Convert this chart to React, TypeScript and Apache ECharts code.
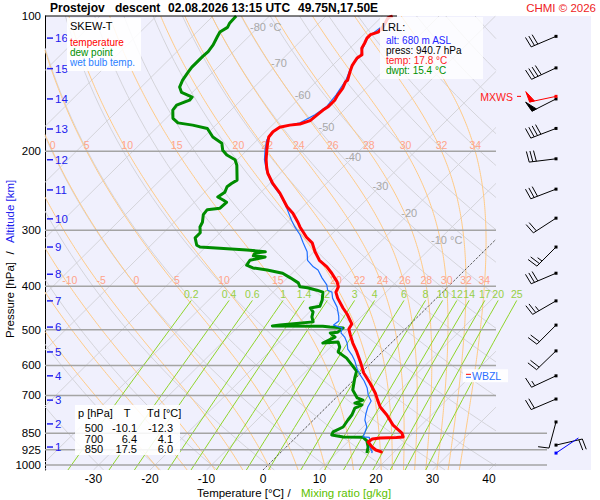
import React, { useEffect, useRef } from "react";
import * as echarts from "echarts";

// ---------------- diagram frame ----------------
const P_TOP = 100;
const P_BASE = 1026; // pressure at the lower edge of the diagram
const SKEW_K = 80.26; // skew of isotherms, degC per decade of pressure
const XMIN = -38.58;
const XMAX = 50.27;
const XCLIP = 41.24;
const MIX_TOP = 430;
const MIX_LABEL_P = 416;
// label rows of the pseudo-adiabats: [isobar the label belongs to, pressure where text sits]
const THETA_W_LABEL_ROWS = [[200, 194], [400, 387]];
const BARB_X = 0.17;

// ---------------- axes / reference lines ----------------
const PRESSURE_TICKS = [100, 200, 300, 400, 500, 600, 700, 850, 925, 1000];
const TEMPERATURE_TICKS = [-30, -20, -10, 0, 10, 20, 30, 40];
const ISOBARS = [200, 300, 400, 500, 600, 700, 850, 925, 1000];
const LONG_ISOBARS = [850, 925, 1000];
const ISOTHERMS = [-120, -110, -100, -90, -80, -70, -60, -50, -40, -30, -20, -10, 0, 10, 20, 30, 40];
const DRY_ADIABATS_C = [-40, -30, -20, -10, 0, 10, 20, 30, 40, 50, 60, 70, 80, 90, 100, 110, 120, 130, 140, 150, 160, 170, 180];
const THETA_W = [-20, -15, -10, -5, 0, 5, 10, 15, 20, 22, 24, 26, 28, 30, 32, 34];
const MIXING_RATIOS = [0.2, 0.4, 0.6, 1, 1.4, 2, 3, 4, 6, 8, 10, 12, 14, 17, 20, 25];
const ISOTHERM_LABEL_T = [-80, -70, -60, -50, -40, -30, -20, -10];
const ISOTHERM_LABEL_P = [106, 127, 150, 177, 206, 239, 275, 315];

// ---------------- sounding [pressure hPa, degC] ----------------
const TEMPERATURE = [
  [100, -58.2], [101, -58.7], [106, -57.9], [108.6, -57.9], [110, -58.8], [112, -58.8], [115, -58.3], [118, -57.9],
  [122, -56.7], [124, -57.0], [129, -56.5], [133, -55.8], [139, -54.7], [140, -54.8], [145, -54.1], [150, -53.8],
  [154, -53.4], [156, -53.4], [159, -53.4], [162, -53.7], [166, -53.9], [171, -54.1], [174, -55.3], [175, -56.9],
  [177, -58.3], [181, -58.7], [186, -58.5], [192, -57.6], [199, -56.5], [209, -54.9], [217, -53.5], [224, -52.2],
  [236, -49.5], [248, -46.5], [266, -42.8], [275, -40.6], [288, -38.1], [295, -36.9], [311, -33.9], [320, -31.9],
  [335, -29.8], [350, -27.5], [362, -25.0], [374, -23.0], [391, -20.5], [401, -19.4], [412, -18.9], [425, -17.5],
  [447, -14.8], [461, -13.0], [485, -10.4], [498, -10.0], [513, -8.7], [535, -6.8], [560, -4.5], [593, -1.8],
  [624, 0.5], [657, 3.4], [691, 6.1], [717, 7.8], [743, 9.5], [774, 12.1], [815, 15.0], [849, 18.0],
  [866, 18.9], [868, 17.8], [871, 15.0], [875, 13.8], [889, 13.6], [912, 15.2], [926, 16.4], [935, 17.7], [940.7, 17.8],
];
const DEW_POINT = [
  [100, -85.9], [103.6, -85.8], [106, -85.4], [108.6, -85.9], [111.4, -85.5], [116, -84.8], [120, -84.5], [123, -84.6],
  [127, -84.6], [130, -84.6], [133, -84.4], [139, -83.9], [144, -83.2], [148, -81.9], [151.5, -79.2], [154, -79.1],
  [158, -80.5], [162, -80.3], [169, -78.8], [173, -77.1], [175, -74.1], [178, -70.9], [186, -68.4], [192, -65.7],
  [199, -64.3], [204, -62.7], [209, -60.4], [215, -59.1], [232, -56.4], [236, -56.8], [240, -57.0], [247, -56.4],
  [253, -56.8], [257, -55.3], [260, -54.3], [268, -54.4], [270, -56.4], [277, -56.2], [288, -55.0], [295, -54.6],
  [304, -53.5], [312, -53.5], [324, -51.9], [327, -51.0], [329, -47.3], [332, -42.2], [335, -38.6], [337, -40.2],
  [342, -40.0], [344, -37.7], [350, -39.8], [359, -39.5], [364, -37.9], [368, -35.0], [374, -31.7], [383, -29.5],
  [393, -27.2], [401, -26.2], [403, -24.7], [408, -22.6], [412, -21.2], [429, -19.9], [443, -19.2], [447, -20.6],
  [456, -19.4], [468, -18.7], [480, -17.6], [488, -22.9], [490, -24.1], [491, -15.1], [493, -13.7], [495, -11.2],
  [506, -11.4], [508, -12.6], [519, -11.0], [535, -12.1], [532, -9.6], [546, -8.4], [560, -7.8], [578, -5.2],
  [599, -3.0], [618, -1.1], [640, -0.2], [681, 1.6], [709, 3.8], [717, 5.2], [728, 4.3], [735, 5.9],
  [747, 5.2], [774, 5.9], [794, 6.1], [823, 6.5], [844, 5.6], [857, 5.9], [866, 8.3], [867, 11.8],
  [884, 13.2], [912, 14.5], [935, 15.2], [940.7, 15.4],
];
const WET_BULB = [
  [100, -58.5], [106, -58.3], [111.4, -58.8], [118, -57.7], [122.7, -56.8], [129, -56.6], [139, -55.0], [145, -54.5],
  [150, -54.1], [159, -53.7], [166, -54.3], [173, -55.5], [177, -58.3], [182, -58.8], [189, -58.3], [199, -56.8],
  [209, -55.2], [220, -53.1], [236, -49.7], [250, -46.2], [264, -43.3], [285, -39.6], [295, -37.8], [307, -35.5],
  [320, -33.5], [335, -31.2], [350, -29.6], [362, -27.4], [368, -26.0], [383, -23.9], [397, -21.8], [408, -20.7],
  [412, -19.6], [425, -18.4], [445, -16.0], [466, -14.1], [478, -13.2], [488, -13.4], [495, -11.4], [508, -10.7],
  [519, -9.3], [535, -7.8], [552, -6.6], [569, -4.8], [587, -3.2], [611, -1.4], [630, 0.2], [650, 2.0],
  [674, 3.8], [698, 5.2], [720, 6.8], [743, 7.3], [770, 8.2], [794, 9.1], [823, 10.7], [849, 11.4],
  [866, 11.8], [868, 13.0], [889, 13.9], [912, 14.8], [935, 16.1], [940.7, 16.2],
];

// ---------------- altitude scale ----------------
const ALTITUDE_KM = [1, 2, 3, 4, 5, 6, 7, 8, 9, 10, 11, 12, 13, 14, 15, 16];
const ALTITUDE_P = [912, 810, 717, 633, 560, 493, 431, 376, 327, 283, 244, 209, 178.5, 153, 131, 112];

// ---------------- wind ----------------
const BARB_P = [111, 130.5, 153, 178, 208, 243, 282, 327, 374, 431, 488, 557, 633, 713, 802, 903];
const BARB_DIR = [247, 245, 243, 249, 263, 249, 237, 225, 247, 240, 225, 226, 245, 247, 195, 77];
const BARB_SPD = [30, 40, 50, 40, 30, 30, 20, 25, 30, 25, 20, 20, 15, 20, 10, 20];
const MXWS_P = 151;
const MXWS_DIR = 258;
const MXWS_SPD = 50;

// ---------------- launch / levels ----------------
const LRL_ALT = 680;
const LRL_P = 940.7;
const LRL_T = 17.8;
const LRL_TD = 15.4;
const LRL_WIND_DIR = 56;
const WBZL_P = 633;

const TABLE_P = [500, 700, 850];
const TABLE_T = [-10.1, 6.4, 17.5];
const TABLE_TD = [-12.3, 4.1, 6.0];

// ---------------- helpers ----------------
const FONT = '"Liberation Sans", Arial, Helvetica, sans-serif';
const font = (size: number, weight = "normal") => `${weight} ${size}px ${FONT}`;
const lg = (p: number) => Math.log10(p);
const skewX = (t: number, p: number) => t + SKEW_K * Math.log10(P_BASE / p);
const logSpace = (p0: number, p1: number, n: number) =>
  Array.from({ length: n + 1 }, (_, i) => p0 * Math.pow(p1 / p0, i / n));

function clipSegments(pts: number[][], lo: number, hi: number): number[][][] {
  const segs: number[][][] = [];
  let cur: number[][] = [];
  const flush = () => {
    if (cur.length > 1) segs.push(cur);
    cur = [];
  };
  for (let i = 0; i < pts.length - 1; i++) {
    const [x0, y0] = pts[i];
    const [x1, y1] = pts[i + 1];
    const dx = x1 - x0;
    let t0 = 0;
    let t1 = 1;
    if (Math.abs(dx) < 1e-12) {
      if (x0 < lo || x0 > hi) {
        flush();
        continue;
      }
    } else {
      let ta = (lo - x0) / dx;
      let tb = (hi - x0) / dx;
      if (ta > tb) {
        const s = ta;
        ta = tb;
        tb = s;
      }
      t0 = Math.max(0, ta);
      t1 = Math.min(1, tb);
      if (t0 >= t1) {
        flush();
        continue;
      }
    }
    const a = [x0 + dx * t0, y0 + (y1 - y0) * t0];
    const b = [x0 + dx * t1, y0 + (y1 - y0) * t1];
    if (t0 > 0 || cur.length === 0) {
      flush();
      cur.push(a);
    }
    cur.push(b);
    if (t1 < 1) flush();
  }
  flush();
  return segs;
}

function moistAdiabat(thw: number): number[][] {
  const eps = 0.622, Rd = 287.04, Cp = 1005.7, Lv = 2.501e6;
  const f = (lnp: number, T: number) => {
    const p = Math.exp(lnp);
    const Tc = T - 273.15;
    const es = 6.112 * Math.exp((17.67 * Tc) / (Tc + 243.5));
    const r = (eps * es) / (p - es);
    return (Rd * T + Lv * r) / (Cp + (Lv * Lv * r * eps) / (Rd * T * T));
  };
  const integrate = (target: number, h: number) => {
    const pts: number[][] = [[1000, thw]];
    let lnp = Math.log(1000);
    let T = thw + 273.15;
    const lt = Math.log(target);
    while ((h < 0 && lnp > lt + 1e-9) || (h > 0 && lnp < lt - 1e-9)) {
      let hh = h;
      if (h < 0 && lnp + hh < lt) hh = lt - lnp;
      if (h > 0 && lnp + hh > lt) hh = lt - lnp;
      const k1 = f(lnp, T);
      const k2 = f(lnp + hh / 2, T + (hh / 2) * k1);
      const k3 = f(lnp + hh / 2, T + (hh / 2) * k2);
      const k4 = f(lnp + hh, T + hh * k3);
      T += (hh / 6) * (k1 + 2 * k2 + 2 * k3 + k4);
      lnp += hh;
      pts.push([Math.exp(lnp), T - 273.15]);
    }
    return pts;
  };
  const up = integrate(P_TOP, -0.01);
  const down = integrate(P_BASE, 0.01);
  return down.reverse().concat(up.slice(1));
}

function tempAtP(pts: number[][], p: number): number {
  for (let i = 0; i < pts.length - 1; i++) {
    const [pa, ta] = pts[i];
    const [pb, tb] = pts[i + 1];
    if ((pa >= p && pb <= p) || (pa <= p && pb >= p)) {
      const f = (Math.log(p) - Math.log(pa)) / (Math.log(pb) - Math.log(pa) || 1);
      return ta + (tb - ta) * f;
    }
  }
  return NaN;
}

function tempForMixing(wgkg: number, p: number): number {
  const w = wgkg / 1000;
  const es = (w * p) / (0.622 + w);
  const a = Math.log(es / 6.112);
  return (243.5 * a) / (17.67 - a);
}

function linesSeries(segs: number[][][], color: string, width: number, type: any = "solid", z = 1) {
  return {
    type: "lines",
    coordinateSystem: "cartesian2d",
    xAxisIndex: 0,
    yAxisIndex: 0,
    polyline: true,
    silent: true,
    z,
    data: segs.map((c) => ({ coords: c })),
    lineStyle: { color, width, type, opacity: 1 },
  };
}

type Lbl = { x: number; y: number; text: string; color: string; size: number; align?: string; dx?: number };
function textSeries(items: Lbl[], z = 2) {
  return {
    type: "custom",
    coordinateSystem: "cartesian2d",
    xAxisIndex: 0,
    yAxisIndex: 0,
    silent: true,
    clip: false,
    z,
    data: items.map((it) => [it.x, it.y]),
    renderItem: (params: any, api: any) => {
      const it = items[params.dataIndex];
      const c = api.coord([it.x, it.y]);
      return {
        type: "text",
        x: c[0] + (it.dx || 0),
        y: c[1],
        style: {
          text: it.text,
          fill: it.color,
          font: font(it.size),
          textAlign: it.align || "center",
          textVerticalAlign: "middle",
        },
      };
    },
  };
}

function barbShape(cx: number, cy: number, dirDeg: number, spd: number, color: string) {
  const d = (dirDeg * Math.PI) / 180;
  const ux = Math.sin(d);
  const uy = -Math.cos(d);
  const tilt = (8 * Math.PI) / 180;
  const fx = -uy * Math.cos(tilt) + ux * Math.sin(tilt);
  const fy = ux * Math.cos(tilt) + uy * Math.sin(tilt);
  const L = 27, F = 11, S = 3.6;
  const tx = cx + ux * L;
  const ty = cy + uy * L;
  const ch: any[] = [];
  ch.push({ type: "line", shape: { x1: cx, y1: cy, x2: tx, y2: ty }, style: { stroke: color, lineWidth: 1 } });
  let rem = Math.round(spd / 5) * 5;
  let pos = 0;
  while (rem >= 50) {
    const ax = tx - ux * pos, ay = ty - uy * pos;
    const bx = tx - ux * (pos + 5), by = ty - uy * (pos + 5);
    ch.push({
      type: "polygon",
      shape: { points: [[ax, ay], [ax + fx * F, ay + fy * F], [bx, by]] },
      style: { fill: color, stroke: color, lineWidth: 1 },
    });
    pos += 7;
    rem -= 50;
  }
  while (rem >= 10) {
    const ax = tx - ux * pos, ay = ty - uy * pos;
    ch.push({ type: "line", shape: { x1: ax, y1: ay, x2: ax + fx * F, y2: ay + fy * F }, style: { stroke: color, lineWidth: 1 } });
    pos += S;
    rem -= 10;
  }
  if (rem >= 5) {
    if (pos === 0) pos = S;
    const ax = tx - ux * pos, ay = ty - uy * pos;
    ch.push({ type: "line", shape: { x1: ax, y1: ay, x2: ax + (fx * F) / 2, y2: ay + (fy * F) / 2 }, style: { stroke: color, lineWidth: 1 } });
  }
  ch.push({ type: "rect", shape: { x: cx - 1.5, y: cy - 1.5, width: 3, height: 3 }, style: { fill: color } });
  return ch;
}

function gText(x: number, y: number, text: string, color = "#000", size = 11, align = "left", weight = "normal", rotation = 0) {
  return {
    type: "text",
    x,
    y,
    rotation,
    z: 30,
    silent: true,
    style: { text, fill: color, font: font(size, weight), textAlign: align, textVerticalAlign: "middle" },
  };
}
function gRect(x: number, y: number, w: number, h: number, fill: string, z = 25) {
  return { type: "rect", z, silent: true, shape: { x, y, width: w, height: h }, style: { fill } };
}

function buildOption() {
  const toXY = (pts: number[][]) => pts.map(([p, t]) => [skewX(t, p), lg(p)]);

  const isotherms = ISOTHERMS.flatMap((t) =>
    clipSegments([[skewX(t, P_BASE), lg(P_BASE)], [skewX(t, P_TOP), lg(P_TOP)]], XMIN, XCLIP)
  );
  const zeroIso = clipSegments([[skewX(0, P_BASE), lg(P_BASE)], [skewX(0, P_TOP), lg(P_TOP)]], XMIN, XCLIP);
  const dry = DRY_ADIABATS_C.flatMap((th) => {
    const TK = th + 273.15;
    const pts = logSpace(P_BASE, P_TOP, 40).map((p) => [skewX(TK * Math.pow(p / 1000, 0.2857) - 273.15, p), lg(p)]);
    return clipSegments(pts, XMIN, XCLIP);
  });
  const moistPts = THETA_W.map((w) => moistAdiabat(w));
  const moist = moistPts.flatMap((pts) => clipSegments(toXY(pts), XMIN, XCLIP));
  const mixing = MIXING_RATIOS.flatMap((w) => {
    const pts = logSpace(P_BASE, MIX_TOP, 12).map((p) => [skewX(tempForMixing(w, p), p), lg(p)]);
    return clipSegments(pts, XMIN, XMAX);
  });
  const isobars = ISOBARS.map((p) => [
    [XMIN, lg(p)],
    [LONG_ISOBARS.includes(p) ? XMAX : XCLIP, lg(p)],
  ]);

  const thetaLabels: Lbl[] = [];
  THETA_W_LABEL_ROWS.forEach(([lineP, textP]) => {
    THETA_W.forEach((w, i) => {
      const x = skewX(tempAtP(moistPts[i], lineP), lineP);
      if (x > XMIN + 0.6 && x < XCLIP) thetaLabels.push({ x, y: lg(textP), text: String(w), color: "#ffa48a", size: 10.5 });
    });
  });
  const mixLabels: Lbl[] = MIXING_RATIOS.map((w) => ({
    x: skewX(tempForMixing(w, MIX_TOP), MIX_TOP),
    y: lg(MIX_LABEL_P),
    text: String(w),
    color: "#97cf45",
    size: 10.5,
  }));
  const isoLabels: Lbl[] = ISOTHERM_LABEL_T.map((t, i) => ({
    x: skewX(t, ISOTHERM_LABEL_P[i]),
    y: lg(ISOTHERM_LABEL_P[i]),
    text: t === -80 || t === -10 ? `${t} °C` : `${t}`,
    color: "#a8a8a8",
    size: 11,
    align: "left",
    dx: -8,
  }));

  const barbData = BARB_P.map((p, i) => [BARB_X, lg(p), BARB_DIR[i], BARB_SPD[i], 0]);
  barbData.push([BARB_X, lg(MXWS_P), MXWS_DIR, MXWS_SPD, 1]);
  barbData.push([BARB_X, lg(LRL_P), LRL_WIND_DIR, 0, 2]);
  const barbColors = ["#000000", "#ff0000", "#0000ff"];

  const graphicEls: any[] = [
    { type: "rect", z: -10, silent: true, shape: { x: 45, y: 16, width: 546, height: 454 }, style: { fill: "#f0f0fd" } },
    { type: "line", z: 8, silent: true, shape: { x1: 45, y1: 16, x2: 397, y2: 16 }, style: { stroke: "#000", lineWidth: 1 } },
    gText(50, 8, "Prostejov", "#000", 12, "left", "bold"),
    gText(115, 8, "descent", "#000", 12, "left", "bold"),
    gText(168, 8, "02.08.2026 13:15 UTC", "#000", 12, "left", "bold"),
    gText(298, 8, "49.75N,17.50E", "#000", 12, "left", "bold"),
    gText(596, 8, "CHMI © 2026", "#ee1c24", 11.5, "right"),
    gRect(67, 18, 74, 53, "rgba(255,255,255,0.88)"),
    gText(70, 26, "SKEW-T", "#000", 11),
    gText(70, 42, "temperature", "#ff0000", 10),
    gText(70, 52, "dew point", "#009000", 10),
    gText(70, 62, "wet bulb temp.", "#2a7fff", 10),
    gRect(380, 17, 103, 62, "rgba(255,255,255,0.8)"),
    gText(382, 27, "LRL:", "#000", 11),
    gText(386, 40, `alt: ${LRL_ALT} m ASL`, "#2424ff", 10),
    gText(386, 50.5, `press: ${LRL_P} hPa`, "#000", 10),
    gText(386, 60.5, `temp: ${LRL_T} °C`, "#ff1a1a", 10),
    gText(386, 70.5, `dwpt: ${LRL_TD} °C`, "#009000", 10),
    gRect(75, 405, 105, 50, "rgba(255,255,255,0.88)"),
    gText(78, 413, "p [hPa]", "#000", 11),
    gText(127, 413, "T", "#000", 11, "center"),
    gText(147, 413, "Td [°C]", "#000", 11),
    ...TABLE_P.flatMap((p, i) => [
      gText(94, 428 + i * 10.5, String(p), "#000", 11, "center"),
      gText(137, 428 + i * 10.5, TABLE_T[i].toFixed(1), "#000", 11, "right"),
      gText(173, 428 + i * 10.5, TABLE_TD[i].toFixed(1), "#000", 11, "right"),
    ]),
    gText(197, 493, "Temperature [°C]", "#000", 11.5),
    gText(289, 493, "/", "#000", 11.5, "center"),
    gText(301, 493, "Mixing ratio [g/kg]", "#5cbf00", 11.5),
    gText(10, 338, "Pressure [hPa]", "#000", 11.5, "left", "normal", Math.PI / 2),
    gText(10, 253, "/", "#000", 11.5, "center", "normal", Math.PI / 2),
    gText(10, 243, "Altitude [km]", "#2222ee", 11.5, "left", "normal", Math.PI / 2),
  ];

  return {
    animation: false,
    backgroundColor: "#ffffff",
    textStyle: { fontFamily: FONT },
    grid: [
      { left: 45, right: 53, top: 16, bottom: 30 },
      { left: 547, right: 0, top: 16, bottom: 30 },
    ],
    xAxis: [
      {
        gridIndex: 0,
        type: "value",
        min: XMIN,
        max: XMAX,
        axisLine: { show: false, onZero: false },
        axisTick: { show: false },
        splitLine: { show: false },
        axisLabel: {
          customValues: TEMPERATURE_TICKS,
          formatter: (v: number) => String(Math.round(v)),
          color: "#000",
          fontSize: 12,
          margin: 3,
          fontFamily: FONT,
        },
      },
      { gridIndex: 1, type: "value", min: 0, max: 1, show: false },
    ],
    yAxis: [
      {
        gridIndex: 0,
        type: "value",
        inverse: true,
        min: lg(P_TOP),
        max: lg(P_BASE),
        axisLine: { show: true, onZero: false, lineStyle: { color: "#000", width: 1 } },
        axisTick: { show: false },
        splitLine: { show: false },
        axisLabel: {
          customValues: PRESSURE_TICKS.map(lg),
          formatter: (v: number) => String(Math.round(Math.pow(10, v))),
          color: "#000",
          fontSize: 11.5,
          margin: 4,
          fontFamily: FONT,
        },
      },
      { gridIndex: 1, type: "value", inverse: true, min: lg(P_TOP), max: lg(P_BASE), show: false },
    ],
    graphic: { elements: graphicEls },
    series: [
      linesSeries(isotherms, "#d4d4da", 1),
      linesSeries(dry, "#d4d4da", 1),
      linesSeries(moist, "#ffca85", 1),
      linesSeries(mixing, "#8fd42a", 1),
      linesSeries(zeroIso, "#555555", 1, [2, 2]),
      linesSeries(isobars, "#a4a4a4", 1.5),
      textSeries(thetaLabels),
      textSeries(mixLabels),
      textSeries(isoLabels),
      {
        type: "line",
        xAxisIndex: 0,
        yAxisIndex: 0,
        silent: true,
        z: 4,
        symbol: "none",
        data: toXY(DEW_POINT),
        lineStyle: { color: "#008c00", width: 3, join: "round" },
      },
      {
        type: "line",
        xAxisIndex: 0,
        yAxisIndex: 0,
        silent: true,
        z: 5,
        symbol: "none",
        data: toXY(WET_BULB),
        lineStyle: { color: "#1f6fff", width: 1.2, join: "round" },
      },
      {
        type: "line",
        xAxisIndex: 0,
        yAxisIndex: 0,
        silent: true,
        z: 6,
        symbol: "none",
        data: toXY(TEMPERATURE),
        lineStyle: { color: "#ff0000", width: 3, join: "round" },
      },
      {
        type: "custom",
        coordinateSystem: "cartesian2d",
        xAxisIndex: 0,
        yAxisIndex: 0,
        silent: true,
        clip: false,
        z: 7,
        data: ALTITUDE_P.map((p) => [XMIN, lg(p)]),
        renderItem: (params: any, api: any) => {
          const c = api.coord([api.value(0), api.value(1)]);
          const km = ALTITUDE_KM[params.dataIndex];
          return {
            type: "group",
            children: [
              { type: "line", shape: { x1: c[0] + 2, y1: c[1], x2: c[0] + 8, y2: c[1] }, style: { stroke: "#2020ee", lineWidth: 1.5 } },
              {
                type: "text",
                x: c[0] + 10,
                y: c[1],
                style: { text: String(km), fill: "#2020ee", font: font(11.5), textAlign: "left", textVerticalAlign: "middle" },
              },
            ],
          };
        },
      },
      {
        type: "custom",
        coordinateSystem: "cartesian2d",
        xAxisIndex: 0,
        yAxisIndex: 0,
        silent: true,
        clip: false,
        z: 8,
        data: [[XCLIP, lg(WBZL_P)]],
        renderItem: (params: any, api: any) => {
          const c = api.coord([api.value(0), api.value(1)]);
          return {
            type: "group",
            children: [
              { type: "rect", shape: { x: c[0] - 33, y: c[1] - 6.5, width: 45, height: 13 }, style: { fill: "rgba(255,255,255,0.9)" } },
              { type: "line", shape: { x1: c[0] - 30, y1: c[1] - 1.5, x2: c[0] - 25, y2: c[1] - 1.5 }, style: { stroke: "#ff0000", lineWidth: 1 } },
              { type: "line", shape: { x1: c[0] - 30, y1: c[1] + 1.5, x2: c[0] - 25, y2: c[1] + 1.5 }, style: { stroke: "#2a6fff", lineWidth: 1 } },
              {
                type: "text",
                x: c[0] - 24,
                y: c[1],
                style: { text: "WBZL", fill: "#2a6fff", font: font(10.5), textAlign: "left", textVerticalAlign: "middle" },
              },
            ],
          };
        },
      },
      {
        type: "custom",
        coordinateSystem: "cartesian2d",
        xAxisIndex: 1,
        yAxisIndex: 1,
        silent: true,
        clip: false,
        z: 8,
        data: [[BARB_X, lg(MXWS_P)]],
        renderItem: (params: any, api: any) => {
          const c = api.coord([api.value(0), api.value(1)]);
          return {
            type: "group",
            children: [
              { type: "line", shape: { x1: c[0] - 39, y1: c[1], x2: c[0] - 35, y2: c[1] }, style: { stroke: "#ff0000", lineWidth: 1 } },
              {
                type: "text",
                x: c[0] - 43,
                y: c[1] + 1,
                style: { text: "MXWS", fill: "#ff2020", font: font(10.5), textAlign: "right", textVerticalAlign: "middle" },
              },
            ],
          };
        },
      },
      {
        type: "custom",
        coordinateSystem: "cartesian2d",
        xAxisIndex: 1,
        yAxisIndex: 1,
        silent: true,
        clip: false,
        z: 9,
        data: barbData,
        renderItem: (params: any, api: any) => {
          const c = api.coord([api.value(0), api.value(1)]);
          return {
            type: "group",
            children: barbShape(c[0], c[1], api.value(2), api.value(3), barbColors[api.value(4)]),
          };
        },
      },
    ],
  };
}

export default function App() {
  const ref = useRef<HTMLDivElement>(null);
  useEffect(() => {
    document.body.style.margin = "0";
    const chart = echarts.init(ref.current as HTMLDivElement, null, { renderer: "svg" });
    chart.setOption(buildOption() as any);
    return () => chart.dispose();
  }, []);
  return <div ref={ref} style={{ position: "absolute", left: 0, top: 0, width: 600, height: 500 }} />;
}
